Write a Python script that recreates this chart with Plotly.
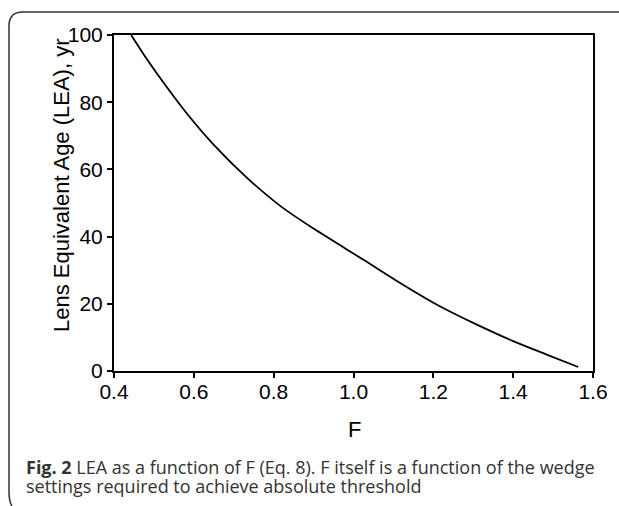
import plotly.graph_objects as go

# Data
F_values = [0.443, 0.483, 0.534, 0.582, 0.650, 0.734, 0.818, 0.901,
            1.025, 1.125, 1.208, 1.309, 1.400, 1.484, 1.563]
LEA_values = [100.0, 92.7, 84.2, 76.7, 67.3, 57.4, 49.0, 42.3,
              33.1, 25.6, 19.8, 13.8, 8.9, 4.9, 1.2]
x_ticks = [0.4, 0.6, 0.8, 1.0, 1.2, 1.4, 1.6]
y_ticks = [0, 20, 40, 60, 80, 100]

W, H = 619, 506
L, R, T, B = 114, 593, 35, 371


def px(x):
    return (x - L) / (R - L)


def py(y):
    return (B - y) / (B - T)


fig = go.Figure()
fig.add_trace(go.Scatter(
    x=F_values, y=LEA_values, mode="lines",
    line=dict(color="black", width=1.8, shape="spline", smoothing=0.8),
    showlegend=False, hoverinfo="skip",
))

axis_font = dict(family="Liberation Sans, Arial, sans-serif", size=21, color="black")

fig.update_xaxes(
    range=[0.4, 1.6], tickvals=x_ticks, ticktext=[f"{v:.1f}" for v in x_ticks],
    showline=True, linecolor="black", linewidth=2, mirror=True,
    ticks="outside", ticklen=5, tickwidth=2, tickcolor="black",
    showgrid=False, zeroline=False, tickfont=axis_font, ticklabelstandoff=-4,
)
fig.update_yaxes(
    range=[0, 100], tickvals=y_ticks, ticktext=[str(v) for v in y_ticks],
    showline=True, linecolor="black", linewidth=2, mirror=True,
    ticks="outside", ticklen=5, tickwidth=2, tickcolor="black",
    showgrid=False, zeroline=False, tickfont=axis_font,
)

title_font = dict(family="Liberation Sans, Arial, sans-serif", size=22, color="black")
cap_font = dict(family="Open Sans, Noto Sans, sans-serif", size=18, color="#333333")
annotations = [
    dict(text="Lens Equivalent Age (LEA), yr", x=px(61), y=py(185),
         xref="paper", yref="paper", xanchor="center", yanchor="middle",
         textangle=-90, showarrow=False, font=title_font),
    dict(text="F", x=px(354), y=py(429), xref="paper", yref="paper",
         xanchor="center", yanchor="middle", showarrow=False, font=title_font),
    dict(text="<b>Fig. 2</b> LEA as a function of F (Eq. 8). F itself is a function of the wedge",
         x=px(24), y=py(467), xref="paper", yref="paper",
         xanchor="left", yanchor="middle", align="left", showarrow=False,
         font=cap_font),
    dict(text="settings required to achieve absolute threshold",
         x=px(24), y=py(486), xref="paper", yref="paper",
         xanchor="left", yanchor="middle", align="left", showarrow=False,
         font=cap_font),
]

border_path = (
    f"M {px(15)},{py(510)} Q {px(9)},{py(505)} {px(9)},{py(492)} "
    f"L {px(9)},{py(26)} Q {px(9)},{py(12)} {px(23)},{py(12)} "
    f"L {px(640)},{py(12)}"
)

fig.update_layout(
    width=W, height=H,
    margin=dict(l=L, r=W - R, t=T, b=H - B, pad=0),
    plot_bgcolor="white", paper_bgcolor="white",
    annotations=annotations,
    shapes=[dict(type="path", path=border_path, xref="paper", yref="paper",
                 line=dict(color="#333333", width=1.5))],
)

fig.write_html(
    "out.html",
    config={"displayModeBar": False},
    post_script="document.body.style.margin='0';document.body.style.padding='0';",
)
